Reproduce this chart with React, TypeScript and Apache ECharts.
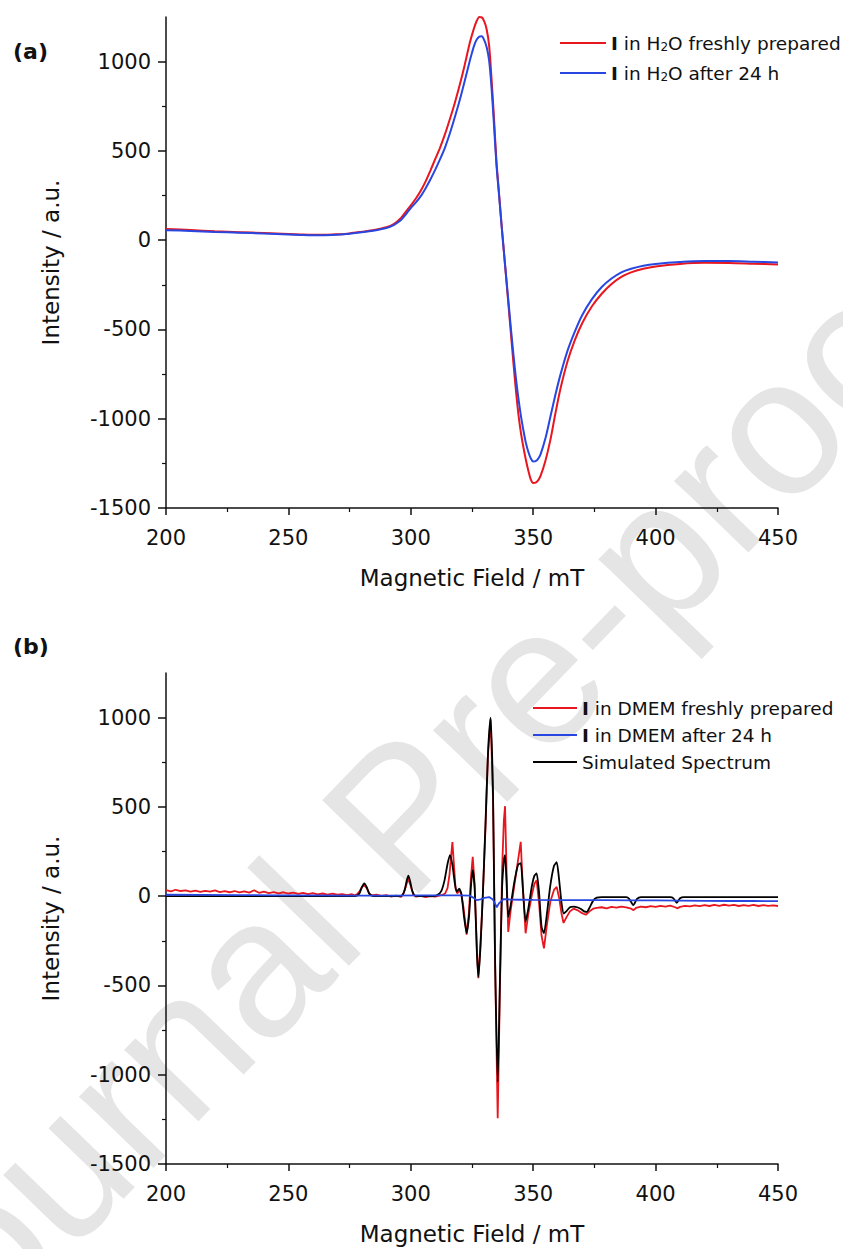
import React, { useEffect, useRef } from "react";
import * as echarts from "echarts";

// ---------- Panel (a): I in H2O ----------
const fieldA = [200,210,220,230,240,250,255,260,265,270,275,280,285,290,293,296,298,300,302,304,306,308,310,312,314,316,318,320,322,324,325,326,327,328,329,330,331,332,333,334,335,336,337,338,339,340,341,342,343,344,345,346,347,348,349,350,351,352,353,355,357,359,361,364,367,370,374,378,382,386,390,395,400,410,420,430,440,450];
const redA = [62,57,50,45,40,35,32,30,30,33,38,47,57,72,90,125,160,195,232,275,328,390,455,520,595,680,770,870,980,1100,1150,1195,1230,1250,1248,1225,1180,1090,900,680,440,270,100,-60,-220,-380,-540,-700,-850,-980,-1080,-1160,-1230,-1290,-1340,-1360,-1358,-1345,-1320,-1235,-1120,-975,-840,-680,-560,-465,-370,-300,-245,-205,-180,-160,-147,-133,-127,-128,-132,-136];
const blueA = [56,52,46,42,37,32,29,27,28,31,36,44,54,68,85,113,145,180,210,245,290,340,395,455,520,600,690,785,890,1000,1050,1095,1125,1140,1142,1120,1080,1005,850,640,420,260,95,-60,-210,-360,-510,-650,-780,-890,-985,-1065,-1135,-1185,-1222,-1240,-1238,-1225,-1200,-1110,-990,-870,-760,-620,-512,-420,-330,-262,-215,-180,-160,-143,-133,-122,-117,-117,-121,-125];

// ---------- Panel (b): I in DMEM ----------
const fieldBRed = [200,202,204,206,208,210,212,214,216,218,220,222,224,226,228,230,232,234,236,238,240,242,244,246,248,250,252,254,256,258,260,262,264,266,268,270,272,274,276,277,278,279,280,281,282,283,284,286,288,290,292,294,296,297,298,299,300,301,302,304,306,308,310,312,313,314,315,315.8,316.5,317,317.6,318.3,319,319.8,320.5,321.5,322.8,323.7,324.6,325.3,326.1,327,327.6,328.4,329.4,330.5,331.5,332.6,333.6,334.4,335.5,336.4,337.3,338,338.5,339.1,339.8,340.8,342.3,343.8,344.9,345.8,346.9,348,349.5,350.5,351.4,352.4,353.4,354.4,355.5,357,358.5,359.6,360.6,361.6,362.4,363.5,365,366.5,368,370,371.5,373,374.5,376,378,380,382,384,386,388,390,391,392,394,396,398,400,402,404,406,408,409,410,412,414,416,418,420,422,424,426,428,430,432,434,436,438,440,442,444,446,448,450];
const redB = [34,27,36,29,33,25,31,24,30,26,32,23,28,22,29,21,27,20,33,19,25,17,23,16,22,15,20,13,19,12,17,10,15,9,14,8,12,6,11,5,10,25,50,62,45,15,4,8,2,6,-2,3,-4,15,55,100,55,10,-3,2,-5,0,-3,4,8,15,45,120,230,303,180,40,15,30,20,-60,-215,-100,110,220,60,-300,-460,-280,0,380,790,990,540,-350,-1243,-520,150,420,504,150,-200,-80,60,200,304,40,-208,-100,10,70,90,-40,-220,-292,-170,-30,35,52,-10,-100,-150,-120,-85,-70,-78,-95,-104,-85,-70,-66,-62,-68,-60,-64,-58,-63,-70,-78,-66,-58,-62,-56,-60,-54,-58,-53,-62,-68,-60,-54,-57,-51,-56,-50,-55,-49,-54,-48,-53,-49,-55,-50,-54,-49,-55,-50,-54,-51,-55];

const fieldBBlue = [200,215,230,245,260,275,290,305,320,324,325.5,326.9,328.5,330,332,333.5,334.5,335.1,336,337.8,341,345,350,360,370,380,390,400,410,420,430,440,450];
const blueB = [8,7,6,5,4,3,3,4,5,3,-8,-22,-18,-10,-5,-18,-45,-62,-40,-17,-19,-20,-21,-22,-22,-22,-23,-24,-25,-26,-27,-27,-28];

const fieldBSim = [200,276,278,279,280,281,282,283,284,286,295,296.5,297.5,298.3,299,299.7,300.5,301.5,303,309,311,312.5,313.8,315,316,317,318,318.8,319.8,320.7,321.7,322.8,323.8,324.6,325.3,326.1,327,327.6,328.4,329.4,330.5,331.6,332.6,333.6,334.4,335.5,336.4,337.3,338.1,338.5,339.1,339.8,340.8,342.3,343.8,344.9,345.8,346.9,348,349.5,350.5,351.4,352.4,353.4,354.4,355.5,357,358.5,359.6,360.6,361.6,362.5,363.5,365,366.5,368,369.5,370.8,371.9,373,374.5,376,378,388,389.2,390.9,392.4,394,406,407.3,408.6,410,411.5,450];
const simB = [0,0,3,15,50,72,50,15,3,0,0,5,35,85,115,85,35,5,0,0,8,30,90,180,230,175,70,25,42,10,-110,-207,-110,60,146,40,-320,-452,-300,0,400,820,1000,560,-330,-1040,-480,50,210,230,80,-116,-50,80,175,185,40,-144,-70,60,115,128,20,-170,-208,-110,60,170,190,90,-40,-97,-85,-62,-58,-62,-72,-85,-88,-65,-25,-8,-5,-5,-15,-50,-15,-5,-5,-12,-37,-12,-5,-5];

// ---------- Axes ----------
const X_MIN = 200;
const X_MAX = 450;
const X_STEP = 50;
const Y_MIN = -1500;
const Y_MAX = 1250;
const yMajorTicks = [-1500, -1000, -500, 0, 500, 1000];
const yMinorTicks = [-1250, -750, -250, 250, 750];

const NAME_A1 = "I in H2O freshly prepared";
const NAME_A2 = "I in H2O after 24 h";
const NAME_B1 = "I in DMEM freshly prepared";
const NAME_B2 = "I in DMEM after 24 h";
const NAME_B3 = "Simulated Spectrum";

const legendLabels: Record<string, string> = {
  [NAME_A1]: "{b|I} in H{sub|2}O freshly prepared",
  [NAME_A2]: "{b|I} in H{sub|2}O after 24 h",
  [NAME_B1]: "{b|I} in DMEM freshly prepared",
  [NAME_B2]: "{b|I} in DMEM after 24 h",
  [NAME_B3]: "Simulated Spectrum",
};

const RED = "#e8161e";
const BLUE = "#2846e0";
const BLACK = "#000000";
const AXIS = "#111111";
const FONT = "DejaVu Sans";

const zip = (xs: number[], ys: number[]) => xs.map((x, i) => [x, ys[i]]);

function xAxis(gridIndex: number) {
  return {
    type: "value",
    gridIndex,
    min: X_MIN,
    max: X_MAX,
    interval: X_STEP,
    name: "Magnetic Field / mT",
    nameLocation: "middle",
    nameGap: 58,
    nameTextStyle: { fontFamily: FONT, fontSize: 23, color: AXIS },
    axisLine: { show: true, onZero: false, lineStyle: { color: AXIS, width: 1.5 } },
    axisTick: { show: true, inside: false, length: 7, lineStyle: { color: AXIS, width: 1.5 } },
    minorTick: { show: true, splitNumber: 2, length: 4, lineStyle: { color: AXIS, width: 1.2 } },
    splitLine: { show: false },
    minorSplitLine: { show: false },
    axisLabel: {
      fontFamily: FONT,
      fontSize: 21,
      color: AXIS,
      margin: 19,
      formatter: (v: number) => String(v),
    },
  };
}

function yAxes(gridIndex: number) {
  return [
    {
      type: "value",
      gridIndex,
      position: "left",
      min: Y_MIN,
      max: Y_MAX,
      name: "Intensity / a.u.",
      nameLocation: "middle",
      nameGap: 104,
      nameTextStyle: { fontFamily: FONT, fontSize: 23, color: AXIS },
      axisLine: { show: true, onZero: false, lineStyle: { color: AXIS, width: 1.5 } },
      axisTick: { show: true, inside: false, length: 8, customValues: yMajorTicks, lineStyle: { color: AXIS, width: 1.5 } },
      splitLine: { show: false },
      axisLabel: {
        fontFamily: FONT,
        fontSize: 21,
        color: AXIS,
        margin: 15,
        customValues: yMajorTicks,
        formatter: (v: number) => String(v),
      },
    },
    {
      type: "value",
      gridIndex,
      position: "left",
      min: Y_MIN,
      max: Y_MAX,
      axisLine: { show: false, onZero: false },
      axisTick: { show: true, inside: false, length: 4, customValues: yMinorTicks, lineStyle: { color: AXIS, width: 1.2 } },
      axisLabel: { show: false },
      splitLine: { show: false },
    },
  ];
}

const legendText = {
  fontFamily: FONT,
  fontSize: 18.5,
  color: AXIS,
  lineHeight: 20,
  rich: {
    b: { fontFamily: FONT, fontSize: 18.5, fontWeight: "bold", color: AXIS, lineHeight: 20 },
    sub: { fontFamily: FONT, fontSize: 12, color: AXIS, lineHeight: 20, verticalAlign: "bottom" },
  },
};

export default function App() {
  const ref = useRef<HTMLDivElement>(null);

  useEffect(() => {
    if (!ref.current) return;
    const chart = echarts.init(ref.current, null, { renderer: "svg" });
    const option: any = {
      animation: false,
      backgroundColor: "#ffffff",
      grid: [
        { left: 166, top: 17, width: 612, height: 491, outerBoundsMode: "none" },
        { left: 166, top: 673, width: 612, height: 491, outerBoundsMode: "none" },
      ],
      xAxis: [xAxis(0), xAxis(1)],
      yAxis: [...yAxes(0), ...yAxes(1)],
      legend: [
        {
          orient: "vertical",
          left: 560,
          top: 33,
          padding: 0,
          icon: "rect",
          itemWidth: 46,
          itemHeight: 2,
          itemGap: 10,
          selectedMode: false,
          data: [NAME_A1, NAME_A2],
          formatter: (n: string) => legendLabels[n],
          textStyle: legendText,
        },
        {
          orient: "vertical",
          left: 533,
          top: 698,
          padding: 0,
          icon: "rect",
          itemWidth: 44,
          itemHeight: 2,
          itemGap: 7,
          selectedMode: false,
          data: [NAME_B1, NAME_B2, NAME_B3],
          formatter: (n: string) => legendLabels[n],
          textStyle: legendText,
        },
      ],
      graphic: [
        {
          type: "text",
          z: -100,
          silent: true,
          x: 400,
          y: 815,
          rotation: (46 * Math.PI) / 180,
          style: {
            text: "Journal Pre-proof",
            fill: "#e5e5e5",
            font: "195px 'Liberation Sans', Arial, sans-serif",
            textAlign: "center",
            textVerticalAlign: "middle",
          },
        },
        {
          type: "text",
          x: 13,
          y: 51,
          style: {
            text: "(a)",
            fill: AXIS,
            font: "bold 22px 'DejaVu Sans'",
            textAlign: "left",
            textVerticalAlign: "middle",
          },
        },
        {
          type: "text",
          x: 13,
          y: 646,
          style: {
            text: "(b)",
            fill: AXIS,
            font: "bold 22px 'DejaVu Sans'",
            textAlign: "left",
            textVerticalAlign: "middle",
          },
        },
      ],
      series: [
        {
          type: "line",
          name: NAME_A1,
          xAxisIndex: 0,
          yAxisIndex: 0,
          data: zip(fieldA, redA),
          symbol: "none",
          smooth: 0.3,
          lineStyle: { color: RED, width: 2 },
          itemStyle: { color: RED },
          z: 3,
        },
        {
          type: "line",
          name: NAME_A2,
          xAxisIndex: 0,
          yAxisIndex: 0,
          data: zip(fieldA, blueA),
          symbol: "none",
          smooth: 0.3,
          lineStyle: { color: BLUE, width: 2 },
          itemStyle: { color: BLUE },
          z: 4,
        },
        {
          type: "line",
          name: NAME_B1,
          xAxisIndex: 1,
          yAxisIndex: 2,
          data: zip(fieldBRed, redB),
          symbol: "none",
          lineStyle: { color: RED, width: 1.8 },
          itemStyle: { color: RED },
          z: 3,
        },
        {
          type: "line",
          name: NAME_B3,
          xAxisIndex: 1,
          yAxisIndex: 2,
          data: zip(fieldBSim, simB),
          symbol: "none",
          smooth: 0.2,
          lineStyle: { color: BLACK, width: 1.8 },
          itemStyle: { color: BLACK },
          z: 4,
        },
        {
          type: "line",
          name: NAME_B2,
          xAxisIndex: 1,
          yAxisIndex: 2,
          data: zip(fieldBBlue, blueB),
          symbol: "none",
          lineStyle: { color: BLUE, width: 1.8 },
          itemStyle: { color: BLUE },
          z: 5,
        },
      ],
    };
    chart.setOption(option);
    return () => chart.dispose();
  }, []);

  return (
    <div
      ref={ref}
      style={{ position: "absolute", left: 0, top: 0, width: 843, height: 1249, background: "#fff" }}
    />
  );
}
